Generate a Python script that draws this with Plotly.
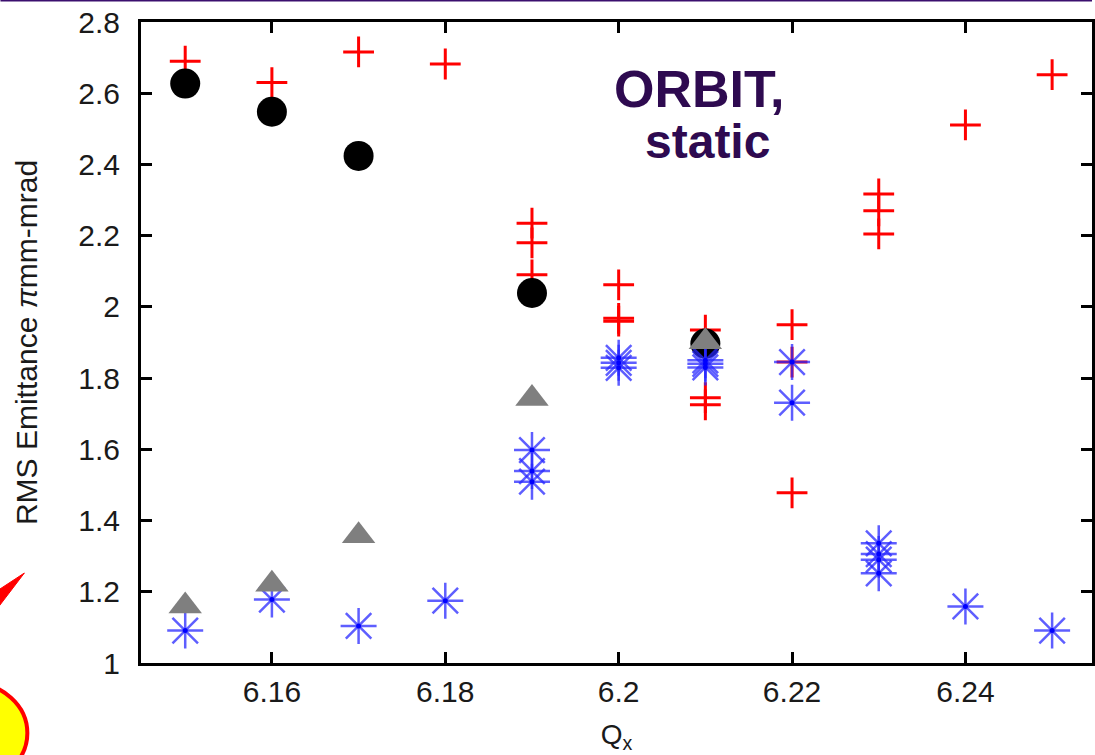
import plotly.graph_objects as go

# ---------------- data ----------------
qx_plus = [6.15, 6.16, 6.17, 6.18, 6.19, 6.19, 6.19, 6.20, 6.20, 6.20, 6.21, 6.21, 6.21,
           6.22, 6.22, 6.22, 6.23, 6.23, 6.23, 6.24, 6.25]
emit_plus = [2.69, 2.63, 2.716, 2.682, 2.235, 2.18, 2.09, 2.062, 1.968, 1.96, 1.935, 1.745, 1.725,
             1.95, 1.845, 1.478, 2.317, 2.27, 2.205, 2.511, 2.652]

qx_circle = [6.15, 6.16, 6.17, 6.19, 6.21]
emit_circle = [2.627, 2.548, 2.424, 2.039, 1.897]

qx_star = [6.15, 6.16, 6.17, 6.18, 6.19, 6.19, 6.19, 6.20, 6.20, 6.20, 6.21, 6.21, 6.21,
           6.22, 6.22, 6.23, 6.23, 6.23, 6.23, 6.24, 6.25]
emit_star = [1.091, 1.178, 1.104, 1.175, 1.598, 1.539, 1.509, 1.857, 1.843, 1.829, 1.85, 1.84, 1.83,
             1.845, 1.731, 1.336, 1.306, 1.29, 1.252, 1.159, 1.091]

qx_tri = [6.15, 6.16, 6.17, 6.19, 6.21]
emit_tri = [1.16, 1.221, 1.357, 1.743, 1.902]

x_ticks = [6.16, 6.18, 6.20, 6.22, 6.24]
x_tick_text = ["6.16", "6.18", "6.2", "6.22", "6.24"]
y_ticks = [1.0, 1.2, 1.4, 1.6, 1.8, 2.0, 2.2, 2.4, 2.6, 2.8]
y_tick_text = ["1", "1.2", "1.4", "1.6", "1.8", "2", "2.2", "2.4", "2.6", "2.8"]

# ---------------- layout geometry ----------------
W, H = 1095, 755
ML, MT, MB, MR = 141, 22, 92, 0
PW, PH = W - ML - MR, H - MT - MB


def px(x):
    return (x - ML) / PW


def py(y):
    return (H - MB - y) / PH


FONT = "Liberation Sans, Arial, sans-serif"

fig = go.Figure()

fig.add_trace(go.Scatter(
    x=qx_plus, y=emit_plus, mode="markers", name="plus",
    marker=dict(symbol="cross-thin", size=22, color="red",
                line=dict(color="#ff0000", width=3)),
))
fig.add_trace(go.Scatter(
    x=qx_circle, y=emit_circle, mode="markers", name="circle",
    marker=dict(symbol="circle", size=30, color="black", line=dict(width=0)),
))
fig.add_trace(go.Scatter(
    x=qx_star, y=emit_star, mode="markers", name="star",
    marker=dict(symbol="asterisk-open", size=30, color="rgba(40,40,255,0.75)",
                line=dict(color="rgba(40,40,255,0.75)", width=2.5)),
))
fig.add_trace(go.Scatter(
    x=qx_star, y=emit_star, mode="markers", name="star-dot",
    marker=dict(symbol="circle", size=5, color="#0000ff", line=dict(width=0)),
))
fig.add_trace(go.Scatter(
    x=qx_tri, y=emit_tri, mode="markers", name="tri",
    marker=dict(symbol="triangle-up", size=29, color="#7f7f7f", line=dict(width=0)),
))

axis_common = dict(
    showline=True, linecolor="black", linewidth=3, mirror="ticks",
    ticks="inside", ticklen=11, tickwidth=2.5, tickcolor="black",
    showgrid=False, zeroline=False,
    tickfont=dict(family=FONT, size=30, color="#1a1a1a"),
)

fig.update_xaxes(
    range=[6.1449, 6.2546], tickvals=x_ticks, ticktext=x_tick_text,
    title=dict(text="Q<sub>x</sub>", font=dict(family=FONT, size=28, color="#1a1a1a"), standoff=18),
    ticklabelstandoff=0,
    **axis_common,
)
fig.update_yaxes(
    range=[1.0, 2.8], tickvals=y_ticks, ticktext=y_tick_text,
    title=dict(text="RMS Emittance <i>π</i>mm-mrad", font=dict(family=FONT, size=30, color="#1a1a1a"),
               standoff=32),
    ticklabelstandoff=12,
    **axis_common,
)

# annotation text
fig.add_annotation(x=px(701), y=py(89), xref="paper", yref="paper", text="<b>ORBIT,</b>",
                   showarrow=False, xanchor="center", yanchor="middle",
                   font=dict(family=FONT, size=52, color="#2e0a50"))
fig.add_annotation(x=px(709), y=py(141), xref="paper", yref="paper", text="<b>static</b>",
                   showarrow=False, xanchor="center", yanchor="middle",
                   font=dict(family=FONT, size=48, color="#2e0a50"))

# decorative slide elements
shapes = [
    dict(type="line", xref="paper", yref="paper", x0=px(0), x1=px(W), y0=py(0.5), y1=py(0.5),
         line=dict(color="#3b0f6e", width=2), layer="above"),
    dict(type="path", xref="paper", yref="paper",
         path=f"M {px(-2)},{py(590)} L {px(24)},{py(573)} L {px(-2)},{py(607)} Z",
         fillcolor="red", line=dict(color="red", width=1), layer="above"),
    dict(type="circle", xref="paper", yref="paper",
         x0=px(-85), x1=px(27), y0=py(683), y1=py(783),
         fillcolor="#ffff00", line=dict(color="#ff0000", width=4), layer="above"),
]
fig.update_layout(
    width=W, height=H, autosize=False,
    margin=dict(l=ML, r=MR, t=MT, b=MB, pad=0),
    paper_bgcolor="white", plot_bgcolor="white",
    showlegend=False, shapes=shapes,
    font=dict(family=FONT),
)

fig.write_html(
    "out.html",
    config={"displayModeBar": False},
    post_script="document.body.style.margin='0';document.body.style.padding='0';"
                "document.body.style.overflow='hidden';",
)
